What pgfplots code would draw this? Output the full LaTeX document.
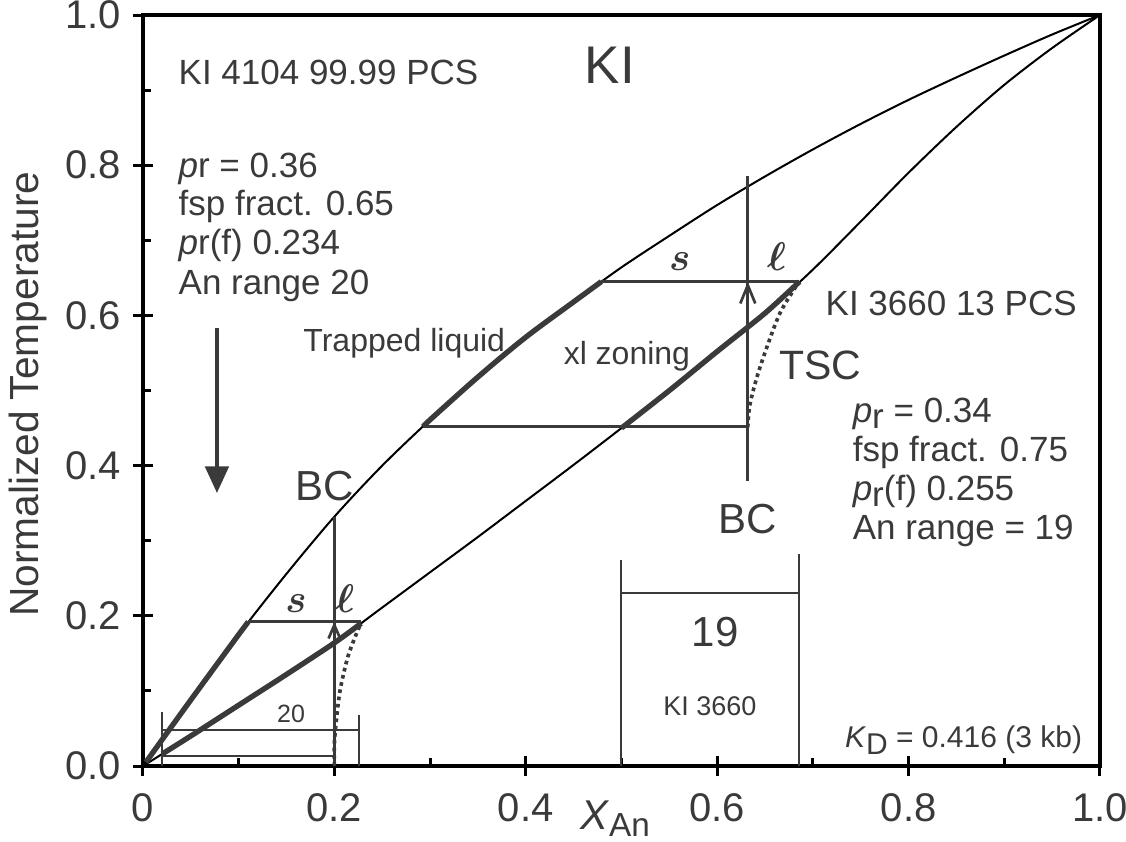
\documentclass[border=0pt]{standalone}
\usepackage{fontspec}
\setmainfont{Liberation Sans}
\usepackage{pgfplots}
\pgfplotsset{compat=1.18}
\usetikzlibrary{arrows.meta}
\definecolor{dg}{HTML}{3A3A3A}
\newcommand{\fA}{\fontsize{10.5}{12}\selectfont}
\newcommand{\fB}{\fontsize{9.6}{11}\selectfont}
\newcommand{\fC}{\fontsize{12.6}{14}\selectfont}
\newcommand{\fT}{\fontsize{12}{14}\selectfont}
\newcommand{\sS}{{\fontsize{11.5}{13}\selectfont\boldmath$s$}}
\newcommand{\sL}{{\fontsize{12}{14}\selectfont\boldmath$\ell$}}
\tikzset{
  t/.style={text=dg, inner sep=0pt},
  barbS/.style={-{Straight Barb[length=4pt,width=3.5pt]}},
  barbL/.style={-{Straight Barb[length=5.5pt,width=4.5pt]}},
  bigtip/.style={-{Triangle[length=8pt,width=7pt]}},
  dotl/.style={dg, line width=1.1pt, dash pattern=on 1.1pt off 1.1pt},
  seg/.style={dg, line width=0.8pt},
  thk/.style={dg, line width=1.6pt},
}

\begin{document}
\begin{tikzpicture}
\begin{axis}[
  scale only axis, width=287.1pt, height=225.3pt,
  xmin=0, xmax=1, ymin=0, ymax=1,
  clip=false,
  axis line style={line width=1.2pt},
  xtick pos=bottom, ytick pos=left,
  xtick={0.1,0.3,0.5,0.7,0.9}, ytick={0.1,0.3,0.5,0.7,0.9},
  xticklabels={}, yticklabels={},
  tick align=inside, major tick length=2.4pt,
  tick style={line width=0.9pt, black},
  extra x ticks={0,0.2,0.4,0.6,0.8,1},
  extra x tick labels={0,0.2,0.4,0.6,0.8,1.0},
  extra y ticks={0,0.2,0.4,0.6,0.8,1},
  extra y tick labels={0.0,0.2,0.4,0.6,0.8,1.0},
  extra tick style={tick align=center, major tick length=6pt},
  tick label style={font=\fT, text=dg},
  xticklabel style={yshift=-1.6pt},
]
% phase loop
\addplot[black, line width=0.6pt, smooth] coordinates {(0,0)(0.05,0.088)(0.1,0.175)(0.15,0.256)(0.2,0.332)(0.25,0.4)(0.3,0.461)(0.35,0.518)(0.4,0.571)(0.45,0.618)(0.5,0.664)(0.55,0.706)(0.6,0.747)(0.65,0.785)(0.7,0.821)(0.75,0.855)(0.8,0.887)(0.85,0.917)(0.9,0.946)(0.95,0.974)(1,1)};
\addplot[black, line width=0.6pt, smooth] coordinates {(0,0)(0.05,0.04)(0.1,0.081)(0.15,0.122)(0.2,0.164)(0.25,0.211)(0.3,0.258)(0.35,0.305)(0.4,0.353)(0.45,0.401)(0.5,0.45)(0.55,0.5)(0.6,0.552)(0.65,0.603)(0.7,0.661)(0.75,0.725)(0.8,0.79)(0.85,0.851)(0.9,0.907)(0.95,0.956)(1,1)};
% thick paths
\addplot[thk, smooth] coordinates {(0.003,0.005)(0.05,0.088)(0.1,0.175)(0.11,0.192)};
\addplot[thk, smooth] coordinates {(0.02,0.016)(0.05,0.04)(0.1,0.081)(0.15,0.122)(0.2,0.164)(0.228,0.19)};
\addplot[thk, smooth] coordinates {(0.293,0.452)(0.3,0.461)(0.35,0.518)(0.4,0.571)(0.45,0.618)(0.479,0.645)};
\addplot[thk, smooth] coordinates {(0.5,0.45)(0.55,0.5)(0.6,0.552)(0.65,0.603)(0.686,0.645)};
% dotted TSC paths
\addplot[dotl, smooth] coordinates {(0.2,0)(0.2,0.03)(0.202,0.06)(0.206,0.101)(0.214,0.145)(0.2236,0.178)(0.228,0.19)};
\addplot[dotl, smooth] coordinates {(0.632,0.451)(0.634,0.48)(0.6416,0.518)(0.652,0.558)(0.6656,0.603)(0.681,0.636)(0.686,0.645)};
% tie lines
\addplot[seg] coordinates {(0.11,0.192)(0.228,0.192)};
\addplot[seg] coordinates {(0.479,0.645)(0.686,0.645)};
\addplot[seg] coordinates {(0.293,0.452)(0.632,0.452)};
% BC verticals
\addplot[seg] coordinates {(0.2,0)(0.2,0.332)};
\addplot[seg, barbS] coordinates {(0.2,0.12)(0.2,0.192)};
\addplot[seg] coordinates {(0.632,0.38)(0.632,0.786)};
\addplot[seg, barbL] coordinates {(0.632,0.55)(0.632,0.645)};
% An range bars
\addplot[seg] coordinates {(0.02,0.048)(0.2257,0.048)};
\addplot[seg] coordinates {(0.02,0.0133)(0.2,0.0133)};
\addplot[seg] coordinates {(0.02,0)(0.02,0.072)};
\addplot[seg] coordinates {(0.2257,0)(0.2257,0.068)};
\addplot[seg] coordinates {(0.4995,0)(0.4995,0.274)};
\addplot[seg] coordinates {(0.6855,0)(0.6855,0.282)};
\addplot[seg] coordinates {(0.4995,0.2304)(0.6855,0.2304)};
% cooling arrow
\addplot[dg, line width=1.2pt, bigtip] coordinates {(0.0773,0.583)(0.0773,0.3635)};

% text
\node[t, anchor=base west, font=\fA] at (axis cs:0.0366,0.9075) {KI 4104 99.99 PCS};
\node[t, anchor=base, font=\fontsize{15.9}{18}\selectfont] at (axis cs:0.488,0.909) {KI};
\node[t, anchor=base west, font=\fA] at (axis cs:0.0366,0.784) {\textit{p}r = 0.36};
\node[t, anchor=base west, font=\fA] at (axis cs:0.0366,0.733) {fsp fract. 0.65};
\node[t, anchor=base west, font=\fA] at (axis cs:0.0366,0.681) {\textit{p}r{\upshape(}f{\upshape)} 0.234};
\node[t, anchor=base west, font=\fA] at (axis cs:0.0366,0.628) {An range 20};
\node[t, anchor=base west, font=\fB] at (axis cs:0.167,0.5513) {Trapped liquid};
\node[t, anchor=base west, font=\fB] at (axis cs:0.439,0.534) {xl zoning};
\node[t, anchor=base west, font=\fA] at (axis cs:0.7127,0.6005) {KI 3660 13 PCS};
\node[t, anchor=base west, font=\fontsize{12.3}{14}\selectfont] at (axis cs:0.664,0.514) {TSC};
\node[t, anchor=base west, font=\fA] at (axis cs:0.741,0.458) {\textit{p}\raisebox{-2pt}{r} = 0.34};
\node[t, anchor=base west, font=\fA] at (axis cs:0.741,0.405) {fsp fract. 0.75};
\node[t, anchor=base west, font=\fA] at (axis cs:0.741,0.354) {\textit{p}\raisebox{-2pt}{r}{\upshape(}f{\upshape)} 0.255};
\node[t, anchor=base west, font=\fA] at (axis cs:0.741,0.301) {An range = 19};
\node[t, anchor=base, font=\fC] at (axis cs:0.19,0.354) {BC};
\node[t, anchor=base, font=\fC] at (axis cs:0.632,0.310) {BC};
\node[t, anchor=base, font=\fC] at (axis cs:0.598,0.1585) {19};
\node[t, anchor=base, font=\fontsize{8.1}{10}\selectfont] at (axis cs:0.5925,0.0666) {KI 3660};
\node[t, anchor=base, font=\fontsize{7.5}{9}\selectfont] at (axis cs:0.1547,0.0586) {20};
\node[t, anchor=base east, font=\fontsize{9}{11}\selectfont] at (axis cs:0.982,0.024) {\textit{K}\raisebox{-2pt}{\small D} = 0.416 {\upshape(}3 kb{\upshape)}};
\node[t, anchor=base] at (axis cs:0.16,0.204) {\sS};
\node[t, anchor=base] at (axis cs:0.211,0.204) {\sL};
\node[t, anchor=base] at (axis cs:0.561,0.66) {\sS};
\node[t, anchor=base] at (axis cs:0.662,0.66) {\sL};
% axis labels
\node[t, rotate=90, font=\fontsize{12.2}{14}\selectfont] at (axis cs:-0.12,0.495) {Normalized Temperature};
\node[t, anchor=base west, font=\fontsize{12.5}{14}\selectfont] at (axis cs:0.456,-0.0852) {\textit{X}\raisebox{-2.1pt}{\fontsize{10}{12}\selectfont An}};
\path (axis cs:-0.1494,-0.0999) coordinate (bl);
\path (axis cs:1.0272,1.02) coordinate (tr);
\end{axis}
\pgfresetboundingbox
\path (bl) rectangle (tr);
\end{tikzpicture}
\end{document}
